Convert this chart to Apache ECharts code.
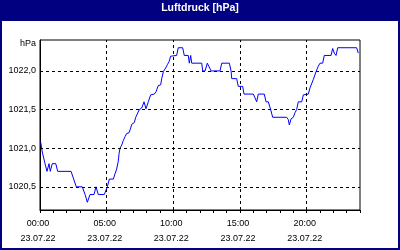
<!DOCTYPE html>
<html>
<head>
<meta charset="utf-8">
<script src="https://cdn.jsdelivr.net/npm/echarts@6/dist/echarts.min.js"></script>
<style>
html,body{margin:0;padding:0;background:#fff;}
#chart{width:400px;height:250px;}
</style>
</head>
<body>
<div id="chart"></div>
<script>
// Data (hours since 23.07.22 00:00, pressure in hPa)
const hours = [0.05,0.17,0.375,0.525,0.675,0.77,0.92,1.18,1.33,2.33,2.72,3.17,3.38,3.55,3.75,4.05,4.2,4.37,4.82,5.05,
  5.2,5.5,5.63,5.75,5.87,5.93,6.0,6.13,6.25,6.38,6.5,6.68,6.8,6.88,7.07,7.18,7.45,7.63,7.8,7.95,
  8.12,8.3,8.57,8.7,8.87,9.05,9.13,9.25,9.43,9.55,9.68,9.8,9.92,10.25,10.37,10.7,10.82,11.12,11.2,11.3,
  11.38,12.13,12.2,12.38,12.55,12.7,12.83,13.5,13.63,14.2,14.33,14.38,14.75,14.87,15.2,15.3,16.0,16.13,16.25,16.37,
  16.82,16.95,17.12,17.3,17.45,18.5,18.62,18.7,18.83,19.0,19.13,19.25,19.37,19.63,19.75,20.12,20.25,20.5,20.7,20.87,
  21.0,21.2,21.32,21.83,21.95,22.07,22.2,22.33,23.75,23.87];
const pressure = [1021.08,1020.95,1020.8,1020.7,1020.8,1020.7,1020.8,1020.8,1020.7,1020.7,1020.5,1020.5,1020.4,1020.3,1020.4,1020.4,1020.5,1020.4,1020.4,1020.5,
  1020.6,1020.6,1020.67,1020.73,1020.83,1020.93,1021.0,1021.04,1021.1,1021.15,1021.19,1021.2,1021.26,1021.31,1021.33,1021.4,1021.5,1021.52,1021.6,1021.51,
  1021.6,1021.69,1021.7,1021.73,1021.81,1021.82,1021.9,1021.99,1022.04,1022.08,1022.12,1022.19,1022.2,1022.2,1022.3,1022.3,1022.2,1022.2,1022.1,1022.2,
  1022.1,1022.1,1022.0,1022.0,1022.1,1022.1,1022.0,1022.0,1022.1,1022.1,1022.0,1021.9,1021.9,1021.8,1021.8,1021.7,1021.7,1021.65,1021.6,1021.7,
  1021.7,1021.6,1021.6,1021.5,1021.4,1021.4,1021.37,1021.3,1021.38,1021.4,1021.46,1021.5,1021.6,1021.6,1021.69,1021.7,1021.78,1021.89,1021.99,1022.06,
  1022.1,1022.1,1022.2,1022.2,1022.29,1022.23,1022.2,1022.3,1022.3,1022.23];

const xTickHours = [0, 5, 10, 15, 20];
const xTickLabels = ['00:00\n23.07.22', '05:00\n23.07.22', '10:00\n23.07.22', '15:00\n23.07.22', '20:00\n23.07.22'];
const yGridValues = [1020.5, 1021.0, 1021.5, 1022.0];
const titleText = 'Luftdruck [hPa]';
const unitText = 'hPa';

const NAVY = '#000080';
const FONT = 'Liberation Sans';

const chart = echarts.init(document.getElementById('chart'), null, {renderer: 'canvas'});
const seriesData = hours.map((h, i) => [h, pressure[i]]);
const markData = yGridValues.map(v => ({yAxis: v})).concat(xTickHours.filter(h => h > 0).map(h => ({xAxis: h})));

chart.setOption({
  animation: false,
  backgroundColor: '#ffffff',
  graphic: [
    {type: 'rect', z: 0, shape: {x: 0, y: 0, width: 400, height: 21}, style: {fill: NAVY}},
    {type: 'rect', z: 0, shape: {x: 1, y: 1, width: 398, height: 248}, style: {fill: 'none', stroke: NAVY, lineWidth: 2}}
  ],
  title: {
    text: titleText,
    left: 'center',
    top: 2,
    padding: [0, 0, 0, 6],
    textStyle: {color: '#ffffff', fontFamily: FONT, fontWeight: 'bold', fontSize: 10.5, lineHeight: 13}
  },
  grid: {left: 40, top: 40, right: 40, bottom: 40, show: true, borderColor: '#000', borderWidth: 1, backgroundColor: '#fff'},
  xAxis: {
    type: 'value', min: 0, max: 24, interval: 1,
    axisLine: {show: true, lineStyle: {color: '#000', width: 1}},
    axisTick: {show: true, length: 3, lineStyle: {color: '#000', width: 1}},
    splitLine: {show: false},
    axisLabel: {
      margin: 6, color: '#000', fontFamily: FONT, fontSize: 9, lineHeight: 15, padding: [0, 4, 0, 0],
      formatter: v => { const i = xTickHours.indexOf(Math.round(v)); return (Math.abs(v - Math.round(v)) < 1e-6 && i >= 0) ? xTickLabels[i] : ''; }
    }
  },
  yAxis: {
    type: 'value', min: 1020.2, max: 1022.4, interval: 0.1,
    name: unitText, nameLocation: 'end', nameGap: -4,
    nameTextStyle: {color: '#000', fontFamily: FONT, fontSize: 9, align: 'right', verticalAlign: 'middle', padding: [0, 4, 0, 0]},
    axisLine: {show: true, lineStyle: {color: '#000', width: 1}},
    axisTick: {show: false},
    splitLine: {show: false},
    axisLabel: {
      margin: 4, color: '#000', fontFamily: FONT, fontSize: 9,
      formatter: v => { const r = Math.round(v * 10); return (r % 5 === 0 && Math.abs(v * 10 - r) < 1e-4) ? (r / 10).toFixed(1).replace('.', ',') : ''; }
    }
  },
  series: [{
    type: 'line',
    data: seriesData,
    showSymbol: false,
    lineStyle: {color: '#0000ff', width: 1},
    markLine: {
      silent: true, symbol: ['none', 'none'], animation: false,
      label: {show: false},
      lineStyle: {color: '#000', type: [3, 3], width: 1},
      data: markData
    }
  }]
});
</script>
</body>
</html>
